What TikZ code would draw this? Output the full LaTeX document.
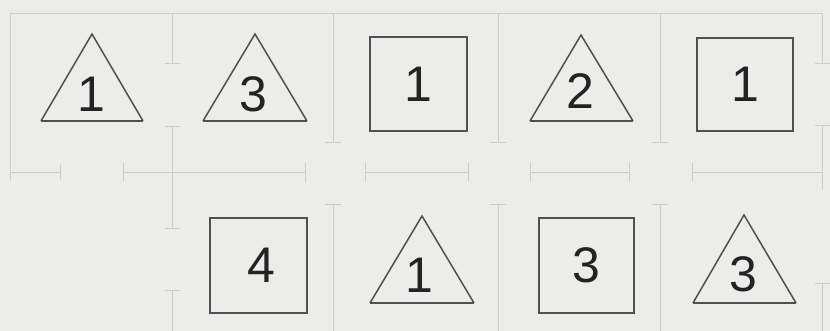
\documentclass[tikz,border=0pt]{standalone}
\usepackage{fontspec}
\setmainfont{Liberation Sans}
\definecolor{bg}{RGB}{236,236,234}
\definecolor{grid}{RGB}{205,205,203}
\definecolor{ink}{RGB}{80,80,80}
\definecolor{num}{RGB}{35,35,35}
\begin{document}
\begin{tikzpicture}[x=1pt,y=-1pt,
  gl/.style={draw=grid,line width=0.8pt},
  shp/.style={draw=ink,line width=1.5pt,line join=miter},
  tbase/.style={draw=ink,line width=2.2pt},
  lbl/.style={text=num,font=\fontsize{50}{50}\selectfont,inner sep=0pt,anchor=center}]
\fill[bg] (0,0) rectangle (830,331);
\useasboundingbox (0,0) rectangle (830,331);
% faint table lines
\draw[gl] (10,13) -- (823,13);
\draw[gl] (10,13) -- (10,172);
\draw[gl] (10,172) -- (60,172);
\draw[gl] (10,164) -- (10,180) (60,164) -- (60,180);
\draw[gl] (123,172) -- (305,172);
\draw[gl] (123,163) -- (123,181) (305,163) -- (305,183);
\draw[gl] (365,172) -- (468,172);
\draw[gl] (365,163) -- (365,181) (468,163) -- (468,181);
\draw[gl] (530,172) -- (629,172);
\draw[gl] (530,163) -- (530,181) (629,163) -- (629,181);
\draw[gl] (692,172) -- (823,172);
\draw[gl] (692,163) -- (692,181);
% vertical x=172
\draw[gl] (172,13) -- (172,63) (165,63) -- (180,63);
\draw[gl] (165,126) -- (180,126) (172,126) -- (172,228) (165,228) -- (180,228);
\draw[gl] (165,290) -- (180,290) (172,290) -- (172,331);
% vertical x=333, 498, 660
\foreach \xx in {333,498,660}{
  \draw[gl] (\xx,13) -- (\xx,142) (\xx-8,142) -- (\xx+8,142);
  \draw[gl] (\xx-8,204) -- (\xx+8,204) (\xx,204) -- (\xx,331);
}
% right vertical
\draw[gl] (822,13) -- (822,63) (815,63) -- (830,63);
\draw[gl] (815,125) -- (830,125) (822,125) -- (822,190);
\draw[gl] (815,283) -- (830,283) (822,283) -- (822,331);
% top row
\draw[shp] (41,121) -- (92,34) -- (143,121);
\draw[tbase] (41,121) -- (143,121);
\node[lbl] (a1) at (91,94) {1};
\draw[shp] (203,121) -- (255,34) -- (307,121);
\draw[tbase] (203,121) -- (307,121);
\node[lbl] (a2) at (253,94) {3};
\draw[shp] (370,37) rectangle (467,131);
\node[lbl] (a3) at (418,84) {1};
\draw[shp] (530,121) -- (581,35) -- (633,121);
\draw[tbase] (530,121) -- (633,121);
\node[lbl] (a4) at (580,91) {2};
\draw[shp] (697,38) rectangle (793,131);
\node[lbl] (a5) at (745,84) {1};
% bottom row
\draw[shp] (210,218) rectangle (307,313);
\node[lbl] (b1) at (261,265) {4};
\draw[shp] (370,303) -- (422,216) -- (474,303);
\draw[tbase] (370,303) -- (474,303);
\node[lbl] (b2) at (419,275) {1};
\draw[shp] (539,218) rectangle (634,313);
\node[lbl] (b3) at (586,265) {3};
\draw[shp] (693,303) -- (744,215) -- (796,303);
\draw[tbase] (693,303) -- (796,303);
\node[lbl] (b4) at (743,274) {3};
\end{tikzpicture}
\end{document}
